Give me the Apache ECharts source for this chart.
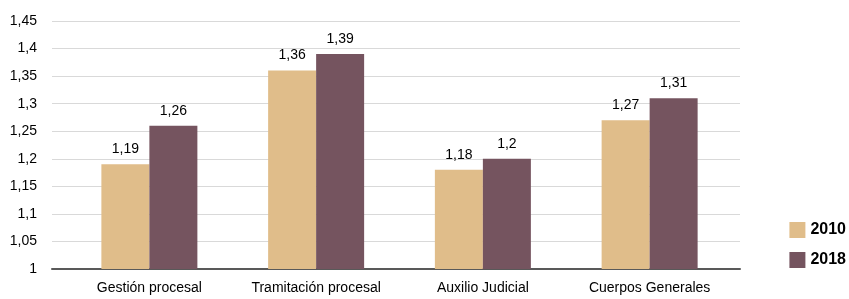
<!DOCTYPE html>
<html>
<head>
<meta charset="utf-8">
<script src="https://cdn.jsdelivr.net/npm/echarts@6/dist/echarts.min.js"></script>
<style>
  html, body { margin: 0; padding: 0; background: #fff; }
  #chart { width: 849px; height: 299px; }
</style>
</head>
<body>
<div id="chart"></div>
<script>
// datos
const categorias = ['Gestión procesal', 'Tramitación procesal', 'Auxilio Judicial', 'Cuerpos Generales'];
const valores2010 = [1.19, 1.36, 1.18, 1.27];
const valores2018 = [1.26, 1.39, 1.20, 1.31];
const series = ['2010', '2018'];
const colores = ['#e0bd8a', '#75545f'];

const fmt = (v) => String(+v.toFixed(2)).replace('.', ',');
const fuente = '"Liberation Sans", Arial, sans-serif';

const chart = echarts.init(document.getElementById('chart'));
chart.setOption({
  animation: false,
  textStyle: { fontFamily: fuente },
  legend: {
    orient: 'vertical',
    right: 3,
    top: 222,
    padding: 0,
    icon: 'rect',
    itemWidth: 16,
    itemHeight: 16,
    itemGap: 14,
    textStyle: { fontSize: 16, fontWeight: 'bold', color: '#000', fontFamily: fuente },
    data: series
  },
  grid: [
    { left: 52, right: 109, top: 21, bottom: 30 },
    { left: 66, right: 116, top: 21, bottom: 30 }
  ],
  xAxis: [
    {
      gridIndex: 0, type: 'category', data: categorias,
      axisLine: { lineStyle: { color: '#595959', width: 2 } },
      axisTick: { show: false }, axisLabel: { show: false }
    },
    {
      gridIndex: 1, type: 'category', data: categorias,
      axisLine: { show: false },
      axisTick: { show: false },
      axisLabel: { interval: 0, color: '#000', fontSize: 14, margin: 12, fontFamily: fuente }
    }
  ],
  yAxis: [
    {
      gridIndex: 0, type: 'value', min: 1, max: 1.45, interval: 0.05,
      axisLine: { show: false }, axisTick: { show: false },
      axisLabel: { color: '#000', fontSize: 14, margin: 15, formatter: fmt, fontFamily: fuente },
      splitLine: { lineStyle: { color: '#d9d9d9', width: 1 } }
    },
    {
      gridIndex: 1, type: 'value', min: 1, max: 1.45, interval: 0.05,
      axisLine: { show: false }, axisTick: { show: false },
      axisLabel: { show: false }, splitLine: { show: false }
    }
  ],
  series: [valores2010, valores2018].map((vals, i) => ({
    name: series[i],
    type: 'bar',
    xAxisIndex: 1,
    yAxisIndex: 1,
    data: vals,
    barWidth: 48,
    barGap: '0%',
    itemStyle: { color: colores[i] },
    label: {
      show: true, position: 'top', distance: 8,
      color: '#000', fontSize: 14, fontFamily: fuente,
      formatter: (p) => fmt(p.value)
    }
  }))
});
</script>
</body>
</html>
